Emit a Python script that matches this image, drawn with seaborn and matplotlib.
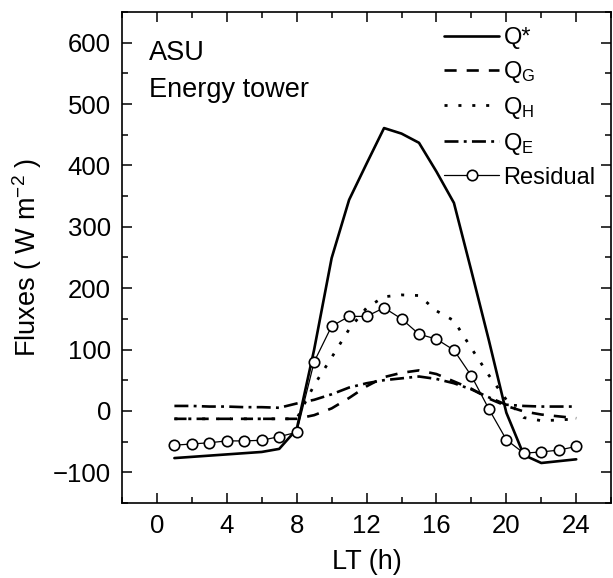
import matplotlib
matplotlib.use("Agg")
import matplotlib.pyplot as plt
from matplotlib.ticker import MultipleLocator
import seaborn as sns
import pandas as pd

hours = list(range(1, 25))
q_star = [-77, -75, -73, -71, -69, -67, -62, -30, 100, 249, 344, 403,
          461, 452, 437, 390, 339, 228, 115, -3, -72, -85, -82, -79]
q_g = [-13, -13, -13, -13, -13, -13, -13, -13, -7, 4, 21, 40,
       55, 62, 66, 60, 48, 36, 20, 8, -1, -6, -9, -12]
q_h = [-13, -13, -13, -13, -13, -13, -13, -13, 42, 87, 133, 168,
       186, 189, 188, 163, 147, 102, 58, 18, -11, -16, -15, -13]
q_e = [8, 8, 7, 7, 6, 6, 5, 12, 18, 27, 38, 45,
       50, 53, 56, 52, 45, 35, 22, 10, 8, 7, 7, 7]
residual = [-56, -54, -52, -49, -49, -48, -42, -35, 80, 138, 154, 154,
            168, 150, 125, 117, 99, 57, 3, -47, -69, -67, -64, -58]

labels = ["Q*", r"Q$_\mathrm{G}$", r"Q$_\mathrm{H}$", r"Q$_\mathrm{E}$", "Residual"]
x_ticks = [0, 4, 8, 12, 16, 20, 24]
y_ticks = [-100, 0, 100, 200, 300, 400, 500, 600]

df = pd.DataFrame({"LT": hours, "qs": q_star, "qg": q_g, "qh": q_h,
                   "qe": q_e, "res": residual})

sns.set_theme(style="ticks")
plt.rcParams["font.family"] = ["Liberation Sans", "DejaVu Sans"]
plt.rcParams["mathtext.fontset"] = "custom"
plt.rcParams["mathtext.rm"] = "Liberation Sans"
plt.rcParams["mathtext.it"] = "Liberation Sans:italic"
plt.rcParams["text.color"] = "black"
plt.rcParams["axes.labelcolor"] = "black"
plt.rcParams["xtick.color"] = "black"
plt.rcParams["ytick.color"] = "black"

fig = plt.figure(figsize=(6.13, 5.78), dpi=100)
ax = fig.add_axes([0.199, 0.130, 0.798, 0.849])

sns.lineplot(data=df, x="LT", y="qs", ax=ax, color="black", lw=1.9,
             linestyle="-", label=labels[0])
sns.lineplot(data=df, x="LT", y="qg", ax=ax, color="black", lw=1.9,
             linestyle=(0, (4.6, 3.8)), label=labels[1])
sns.lineplot(data=df, x="LT", y="qh", ax=ax, color="black", lw=2.0,
             linestyle=(0, (1.1, 3.9)), label=labels[2])
sns.lineplot(data=df, x="LT", y="qe", ax=ax, color="black", lw=1.9,
             linestyle=(0, (5.3, 2.0, 1.1, 2.0)), label=labels[3])
sns.lineplot(data=df, x="LT", y="res", ax=ax, color="black", lw=0.9,
             marker="o", markersize=7.5, markerfacecolor="white",
             markeredgecolor="black", markeredgewidth=1.2,
             label=labels[4])

ax.set_xlim(-2, 26)
ax.set_ylim(-150, 650)
ax.set_xticks(x_ticks)
ax.set_yticks(y_ticks)
ax.xaxis.set_minor_locator(MultipleLocator(2))
ax.yaxis.set_minor_locator(MultipleLocator(50))
ax.tick_params(which="both", direction="in", top=True, right=True,
               width=1.1, colors="black", labelsize=18.5, pad=8)
ax.tick_params(which="major", length=7)
ax.tick_params(which="minor", length=4)
for s in ax.spines.values():
    s.set_linewidth(1.2)
    s.set_color("black")

ax.set_xlabel("LT (h)", fontsize=19.5, labelpad=8)
ax.set_ylabel(r"Fluxes ( W m$^{-2}$ )", fontsize=19.5, labelpad=6)

ax.text(0.055, 0.902, "ASU", transform=ax.transAxes, fontsize=19.5,
        va="baseline", ha="left")
ax.text(0.055, 0.827, "Energy tower", transform=ax.transAxes, fontsize=19.5,
        va="baseline", ha="left")

ax.legend(loc="upper right", bbox_to_anchor=(0.968, 0.97), frameon=False,
          fontsize=17, handlelength=2.3, handletextpad=0.2,
          labelspacing=0.42, borderaxespad=0, borderpad=0)

fig.savefig("out.png", dpi=100)
